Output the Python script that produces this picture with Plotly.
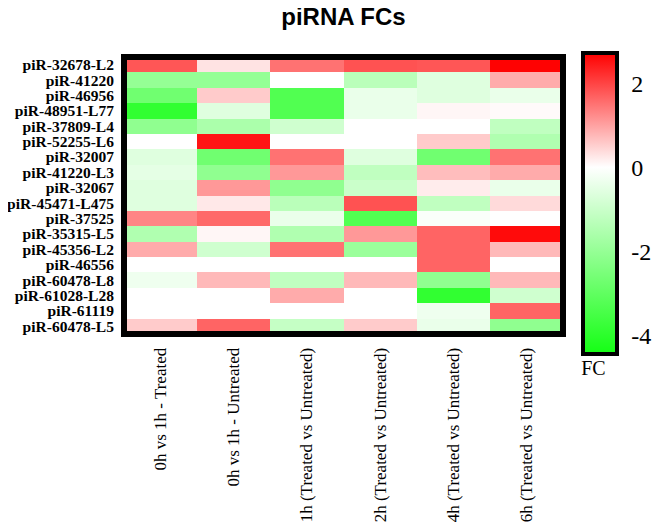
import plotly.graph_objects as go

rows = ["piR-32678-L2", "piR-41220", "piR-46956", "piR-48951-L77", "piR-37809-L4",
        "piR-52255-L6", "piR-32007", "piR-41220-L3", "piR-32067", "piR-45471-L475",
        "piR-37525", "piR-35315-L5", "piR-45356-L2", "piR-46556", "piR-60478-L8",
        "piR-61028-L28", "piR-61119", "piR-60478-L5"]
cols = ["0h vs 1h - Treated", "0h vs 1h - Untreated", "1h (Treated vs Untreated)",
        "2h (Treated vs Untreated)", "4h (Treated vs Untreated)", "6h (Treated vs Untreated)"]

fc_0h_1h_treated = [1.8, -2.0, -2.7, -3.9, -2.1, 0.0, -0.6, -0.5, -0.6, -0.6,
                    1.3, -1.5, 0.9, 0.0, -0.3, 0.0, 0.0, 0.55]
fc_0h_1h_untreated = [0.3, -2.0, 0.55, -0.6, -1.6, 2.5, -2.7, -2.1, 1.1, 0.25,
                      1.6, 0.1, -0.9, 0.0, 0.75, 0.0, 0.0, 1.65]
fc_1h = [1.5, 0.0, -3.3, -3.3, -0.9, 0.0, 1.5, 1.1, -2.1, -1.3,
         -0.4, -1.5, 1.5, 0.0, -1.2, 0.9, 0.0, -1.1]
fc_2h = [1.85, -1.3, -0.4, -0.4, 0.0, 0.0, -0.6, -1.2, -1.0, 1.85,
         -3.3, 1.1, -1.9, 0.0, 0.75, 0.0, 0.0, 0.55]
fc_4h = [1.8, -0.6, -0.6, 0.1, 0.0, 0.55, -2.7, 0.7, 0.2, -1.2,
         -0.1, 1.65, 1.65, 1.65, -2.1, -3.9, -0.3, -0.4]
fc_6h = [2.7, 0.9, -0.4, 0.05, -1.2, -1.5, 1.5, 0.9, -0.4, 0.4,
         0.0, 2.6, 0.75, 0.0, 0.75, -0.9, 1.65, -2.1]

series = [fc_0h_1h_treated, fc_0h_1h_untreated, fc_1h, fc_2h, fc_4h, fc_6h]
z = [[series[c][r] for c in range(len(cols))] for r in range(len(rows))]

zmin, zmax = -4.45, 2.72
mid = (0 - zmin) / (zmax - zmin)

fig = go.Figure(go.Heatmap(
    z=z, x=cols, y=rows, zmin=zmin, zmax=zmax,
    colorscale=[[0, "rgb(20,255,20)"], [mid, "rgb(255,255,255)"], [1, "rgb(255,0,0)"]],
    xgap=0, ygap=0,
    colorbar=dict(
        x=1.046, xanchor="left", xpad=0,
        y=1.0144, yanchor="top", ypad=0,
        len=328, lenmode="pixels",
        thickness=34, thicknessmode="pixels",
        outlinewidth=4, outlinecolor="black",
        tickvals=[2, 0, -2, -4], ticktext=["2", "0", "-2", "-4"],
        ticks="outside", ticklen=8, tickcolor="white",
        tickfont=dict(family="Liberation Serif", size=24, color="black"),
        title=dict(text="FC", side="bottom",
                   font=dict(family="Liberation Serif", size=20, color="black")),
    ),
))

fig.add_shape(type="rect", xref="paper", yref="paper", x0=0, x1=1, y0=0, y1=1,
              line=dict(color="black", width=6))

fig.update_layout(
    width=658, height=519,
    margin=dict(l=116, r=99, t=49, b=193),
    paper_bgcolor="white", plot_bgcolor="white",
    title=dict(text="<b>piRNA FCs</b>", x=0.5, xref="paper", xanchor="center",
               y=0.999, yanchor="top",
               font=dict(family="Liberation Sans", size=24, color="black")),
    xaxis=dict(tickangle=-90, showgrid=False, zeroline=False, automargin=False,
               ticks="outside", ticklen=6, tickcolor="white",
               tickfont=dict(family="Liberation Serif", size=17, color="black")),
    yaxis=dict(autorange="reversed", showgrid=False, zeroline=False, automargin=False,
               tickmode="array", tickvals=rows, ticktext=rows,
               ticks="outside", ticklen=6, tickcolor="white",
               tickfont=dict(family="Liberation Serif", size=15.5, color="black", weight="bold")),
)

fig.write_html("out.html")
